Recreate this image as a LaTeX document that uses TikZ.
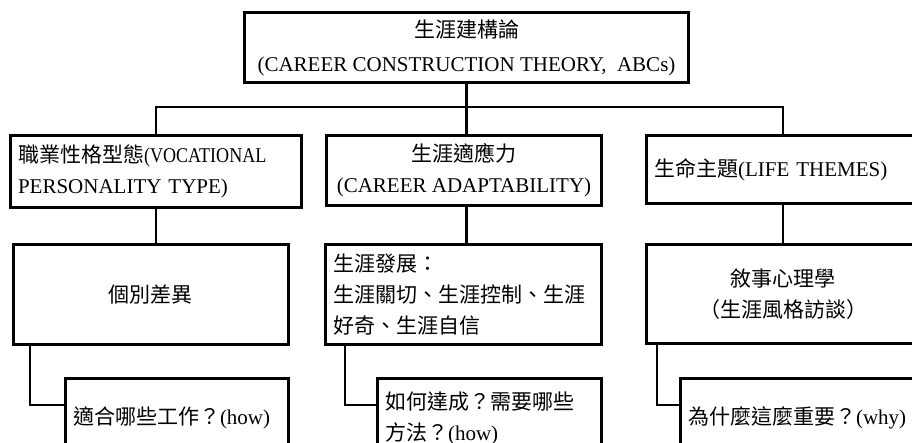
\documentclass[tikz,border=0pt]{standalone}
\usepackage{graphicx}
\usepackage{fontspec}
\setmainfont{Liberation Serif}
\newfontfamily\zh{Noto Sans CJK TC}
\tikzset{
	box/.style={draw,line width=3pt,inner xsep=7.5pt,inner ysep=0pt,font=\fontsize{21}{31}\selectfont},
	link/.style={line width=2.1pt},
}
\begin{document}
\begin{tikzpicture}[x=1pt,y=-1pt]
	\useasboundingbox (0,0) rectangle (912,443);
	\clip (0,0) rectangle (912,443);
	\node[box,minimum width=444pt,minimum height=70pt,align=center] (theory) at (466.5,47.5) {{\zh 生涯建構論}\\[3pt](CAREER CONSTRUCTION THEORY,\ \ ABCs)};
		\node[box,text width=276pt,minimum height=72pt,align=left] (vocation) at (156,171.5) {{\zh 職業性格型態}\scalebox{0.86}[1]{(VOCATIONAL}\\PERSONALITY TYPE)};
		\node[box,minimum width=275pt,minimum height=70pt,align=center] (adapt) at (464,170.5) {{\zh 生涯適應力}\\(CAREER ADAPTABILITY)};
		\node[box,text width=258pt,minimum height=68.5pt,align=left] (themes) at (783,169.75) {{\zh 生命主題}(LIFE THEMES)};
		\node[box,minimum width=275pt,minimum height=100pt,align=center] (diff) at (150.5,294.5) {{\zh 個別差異}};
		\node[box,text width=261pt,minimum height=100pt,align=left] (develop) at (463.5,294.5) {{\zh 生涯發展：}\\{\zh 生涯關切、生涯控制、生涯}\\{\zh 好奇、生涯自信}};
		\node[box,minimum width=273pt,minimum height=98pt,align=center] (narrative) at (783,294) {{\zh 敘事心理學}\\{\zh （生涯風格訪談）}};
		\node[box,text width=207.5pt,minimum height=80pt,align=left] (how1) at (176.75,418) {{\zh 適合哪些工作？}(how)};
		\node[box,text width=209pt,minimum height=80pt,align=left] (how2) at (489.5,418) {{\zh 如何達成？需要哪些}\\{\zh 方法？}(how)};
		\node[box,text width=265pt,minimum height=80pt,align=left] (why) at (820.5,418) {{\zh 為什麼這麼重要？}(why)};
	\coordinate (bus) at (0,107);
	\coordinate (bend1) at (30,405);
	\coordinate (bend2) at (345,405);
	\coordinate (bend3) at (657,405);
	\draw[link] (theory.south) -- (theory.south |- adapt.north);
	\draw[link] (vocation.north) |- (themes.north |- bus) -- (themes.north);
	\draw[link] (vocation.south) -- (vocation.south |- diff.north);
	\draw[link] (theory.south |- adapt.south) -- (theory.south |- develop.north);
	\draw[link] (themes.south) -- (narrative.north);
	\draw[link] (diff.south -| bend1) |- (how1.west |- bend1);
	\draw[link] (develop.south -| bend2) |- (how2.west |- bend2);
	\draw[link] (narrative.south -| bend3) |- (why.west |- bend3);
\end{tikzpicture}
\end{document}
